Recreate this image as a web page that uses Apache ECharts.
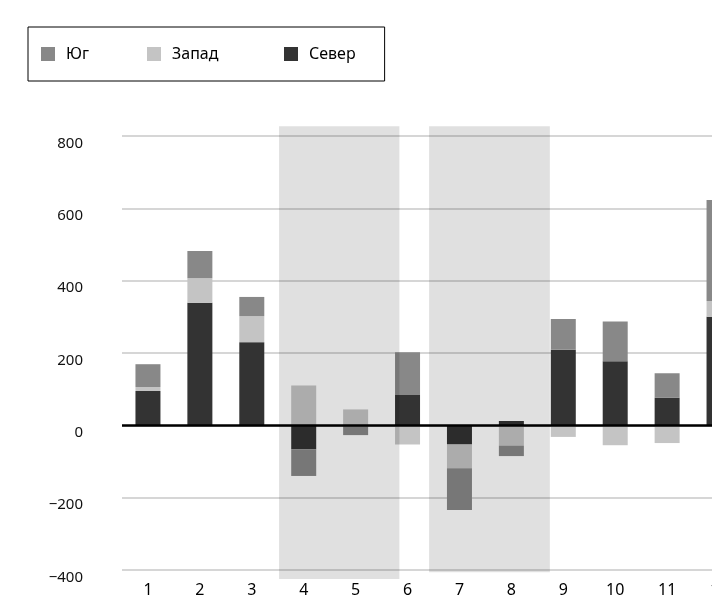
<!DOCTYPE html>
<html>
<head>
<meta charset="utf-8">
<script src="https://cdn.jsdelivr.net/npm/echarts@6/dist/echarts.min.js"></script>
<style>
    html, body { margin: 0; padding: 0; background: #fff; }
    #chart { width: 712px; height: 603px; }
</style>
</head>
<body>
<div id="chart"></div>
<script>
// 分类（月份）
let categories = ['1', '2', '3', '4', '5', '6', '7', '8', '9', '10', '11', '12'];
// 各系列数值
let severData = [95, 339, 230, -66, -3, 84, -53, 12, 209, 177, 76, 300];
let zapadData = [11, 68, 72, 110, 44, -53, -66, -56, -32, -55, -49, 44];
let yugData = [63, 75, 53, -74, -24, 118, -115, -29, 85, 110, 68, 279];
// y轴刻度
let yTicks = [-400, -200, 0, 200, 400, 600, 800];
// 阴影区间：[x起, x止, y上, y下]（坐标轴单位）
let bands = [
    [3.025, 5.343, 827, -425],
    [5.915, 8.241, 827, -406]
];

let font = 'Noto Sans';

let option = {
    animation: false,
    backgroundColor: '#fff',
    textStyle: { fontFamily: font },
    legend: {
        left: 28,
        top: 27,
        orient: 'horizontal',
        selectedMode: false,
        borderColor: '#000',
        borderWidth: 1,
        padding: [17, 29, 17, 13],
        itemWidth: 14,
        itemHeight: 14,
        itemGap: 0,
        icon: 'rect',
        textStyle: { fontSize: 16, color: '#000', fontFamily: font, lineHeight: 20, padding: [0, 0, 0, 6] },
        data: [
            { name: 'Юг', textStyle: { width: 81 } },
            { name: 'Запад', textStyle: { width: 112 } },
            { name: 'Север' }
        ]
    },
    //绘图区超出画布右侧
    grid: {
        left: 122,
        top: 136,
        width: 623,
        height: 434,
        outerBoundsMode: 'none',
        containLabel: false
    },
    xAxis: [
        {
            type: 'category',
            data: categories,
            axisLine: { show: false },
            axisTick: { show: false },
            axisLabel: { fontSize: 16, color: '#000', margin: 12, fontFamily: font }
        },
        {
            type: 'value',
            min: 0,
            max: 12,
            show: false
        }
    ],
    yAxis: {
        type: 'value',
        min: yTicks[0],
        max: yTicks[yTicks.length - 1],
        interval: 200,
        axisLine: { show: false },
        axisTick: { show: false },
        splitLine: { lineStyle: { color: '#c8c8c8', width: 1.5 } },
        axisLabel: {
            fontSize: 15,
            color: '#111',
            margin: 39,
            verticalAlign: 'top',
            lineHeight: 15,
            fontFamily: font,
            formatter: function (v) {
                return String(v).replace('-', '\u2212');
            }
        }
    },
    series: [
        {
            name: 'Север',
            type: 'bar',
            stack: 'total',
            barWidth: 25,
            itemStyle: { color: '#333333' },
            data: severData,
            markLine: {
                silent: true,
                symbol: 'none',
                label: { show: false },
                lineStyle: { color: '#000', width: 2.5, type: 'solid' },
                data: [{ yAxis: 0 }]
            }
        },
        {
            name: 'Запад',
            type: 'bar',
            stack: 'total',
            barWidth: 25,
            itemStyle: { color: '#c4c4c4' },
            data: zapadData
        },
        {
            name: 'Юг',
            type: 'bar',
            stack: 'total',
            barWidth: 25,
            itemStyle: { color: '#888888' },
            data: yugData
        },
        {
            // 阴影区域
            type: 'custom',
            xAxisIndex: 1,
            clip: false,
            silent: true,
            z: 10,
            encode: { x: [0, 1], y: [2, 3] },
            data: bands,
            renderItem: function (params, api) {
                let p0 = api.coord([api.value(0), api.value(2)]);
                let p1 = api.coord([api.value(1), api.value(3)]);
                return {
                    type: 'rect',
                    shape: { x: p0[0], y: p0[1], width: p1[0] - p0[0], height: p1[1] - p0[1] },
                    style: { fill: 'rgba(0,0,0,0.12)' }
                };
            }
        }
    ]
};

let myChart = echarts.init(document.getElementById('chart'));
myChart.setOption(option);
</script>
</body>
</html>
